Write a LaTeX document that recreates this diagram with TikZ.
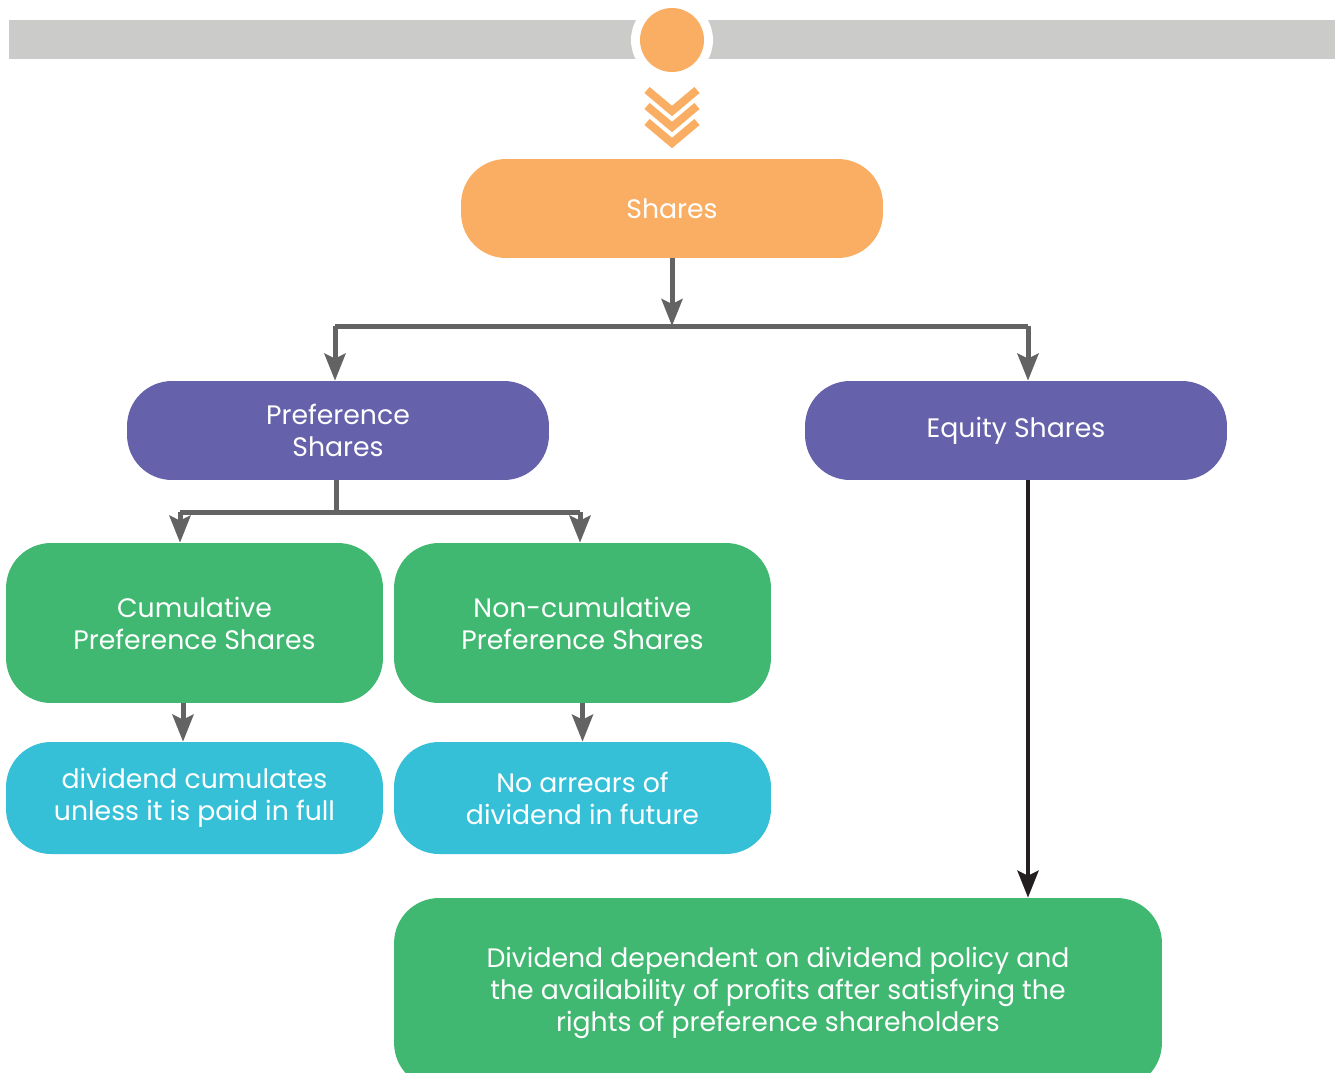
\documentclass[tikz,border=0pt]{standalone}
\usepackage{fontspec}
\setmainfont{Poppins}
\usepackage{tikz}
\usetikzlibrary{arrows.meta}
\definecolor{sharesOrange}{HTML}{F9AE63}
\definecolor{sharesPurple}{HTML}{6661AB}
\definecolor{sharesGreen}{HTML}{41B871}
\definecolor{sharesCyan}{HTML}{36C0D8}
\definecolor{sharesGrey}{HTML}{636363}
\definecolor{sharesBar}{HTML}{CBCBC9}
\definecolor{sharesInk}{HTML}{231F20}
\tikzset{
  lbl/.style={font=\fontsize{15.2}{18.2}\selectfont, text=white},
}

\begin{document}
\begin{tikzpicture}[x=0.02cm, y=-0.02cm,
  block/.style={rounded corners=0.9cm, inner sep=0pt, align=center, lbl},
  wide/.style={block, minimum width=8.44cm, minimum height=1.98cm},
  card/.style={block, minimum width=7.54cm, minimum height=3.2cm, fill=sharesGreen},
  note/.style={block, minimum width=7.54cm, minimum height=2.24cm, fill=sharesCyan},
  link/.style={draw=sharesGrey, line width=1mm},
  arr/.style={link, -{Stealth[length=5.4mm, width=4.2mm, inset=1mm]}},
  chev/.style={draw=sharesOrange, line width=1.6mm, miter limit=10}]
  \clip (0,0) rectangle (1338,1072);
  \fill[sharesBar] (9,20) rectangle (1335,59);
  \fill[white] (672,40) circle[radius=0.82cm];
  \fill[sharesOrange] (672,40) circle[radius=0.64cm];
  \foreach \y in {90,106,122}
    \draw[chev] (647,\y) -- (672,\y+21) -- (697,\y);
  \node[wide, fill=sharesOrange] (shares) at (672,208.5) {Shares};
  \node[wide, fill=sharesPurple] (pref) at (338,430.5) {Preference\\Shares};
  \node[wide, fill=sharesPurple] (eq) at (1016,430.5) {Equity Shares};
  \node[card] (cum) at (194.5,623) {Cumulative\\Preference Shares};
  \node[card] (nc) at (582.5,623) {Non-cumulative\\Preference Shares};
  \node[note] (cumnote) at (194.5,798) {dividend cumulates\\unless it is paid in full};
  \node[note] (ncnote) at (582.5,798) {No arrears of\\dividend in future};
  \node[block, fill=sharesGreen, minimum width=15.36cm, minimum height=3.8cm] (div) at (778,993)
    {Dividend dependent on dividend policy and\\the availability of profits after satisfying the\\rights of preference shareholders};
  \coordinate (fork) at (672,326);
  \coordinate (forkL) at (335,326);
  \coordinate (forkR) at (1028,326);
  \draw[arr] (shares) -- (fork);
  \draw[link] (forkL) -- (forkR);
  \draw[arr] (forkL) -- (forkL |- pref.north);
  \draw[arr] (forkR) -- (forkR |- eq.north);
  \coordinate (split) at (336,512);
  \coordinate (splitL) at (180,512);
  \coordinate (splitR) at (580,512);
  \draw[link] (pref.south -| split) -- (split);
  \draw[link] (splitL) -- (splitR);
  \draw[arr] (splitL) -- (splitL |- cum.north);
  \draw[arr] (splitR) -- (splitR |- nc.north);
  \draw[arr] ([xshift=-0.23cm]cum.south) -- ([xshift=-0.23cm]cumnote.north);
  \draw[arr] (nc.south) -- (ncnote.north);
  \draw[arr, draw=sharesInk, line width=0.9mm] (eq.south -| forkR) -- (forkR |- div.north);
\end{tikzpicture}
\end{document}
